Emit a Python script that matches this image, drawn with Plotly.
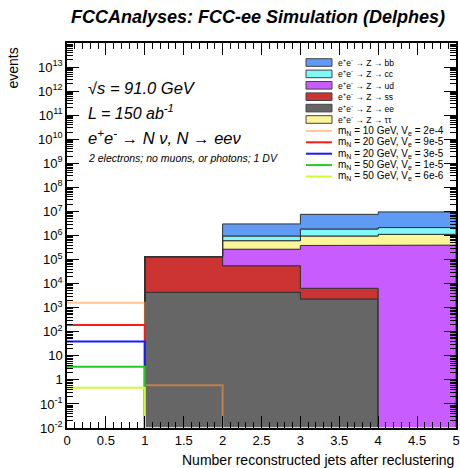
import plotly.graph_objects as go

# ---------------- data ----------------
edges = [0, 1, 2, 3, 4, 5]

# backgrounds (stacked bottom -> top)
z_ee = [0, 4360, 4360, 2300, 0]
z_ss = [0, 1.28e5, 5.1e4, 4100, 0]
z_ud = [0, 0, 2.14e5, 3.78e5, 3.98e5]
z_tautau = [0, 0, 3.4e5, 5.7e5, 7.2e5]
z_cc = [0, 0, 3.45e5, 9.1e5, 1.02e6]
z_bb = [0, 0, 2.07e6, 5.7e6, 7.4e6]

# signals
sig_10_2em4 = [1600, 0.6, 0, 0, 0]
sig_20_9em5 = [190, 0, 0, 0, 0]
sig_20_3em5 = [39, 0, 0, 0, 0]
sig_50_1em5 = [3.5, 0, 0, 0, 0]
sig_50_6em6 = [0.47, 0, 0, 0, 0]

bkg_stack = [
    ("ee", z_ee, "#666666"),
    ("ss", z_ss, "#cc3333"),
    ("ud", z_ud, "#c95cff"),
    ("ττ", z_tautau, "#fbf59a"),
    ("cc", z_cc, "#80f8f8"),
    ("bb", z_bb, "#5f9bf5"),
]
legend_bkg_order = ["bb", "cc", "ud", "ss", "ee", "ττ"]

signals = [
    ("m<sub>N</sub> = 10 GeV, V<sub>e</sub> = 2e-4", sig_10_2em4, "rgba(255,150,60,0.55)"),
    ("m<sub>N</sub> = 20 GeV, V<sub>e</sub> = 9e-5", sig_20_9em5, "#ff1a1a"),
    ("m<sub>N</sub> = 20 GeV, V<sub>e</sub> = 3e-5", sig_20_3em5, "#1a1aff"),
    ("m<sub>N</sub> = 50 GeV, V<sub>e</sub> = 1e-5", sig_50_1em5, "#22cc22"),
    ("m<sub>N</sub> = 50 GeV, V<sub>e</sub> = 6e-6", sig_50_6em6, "#ccff33"),
]

ymin_exp, ymax_exp = -2, 14
ytick_exps = list(range(-2, 14))

FONT = "Liberation Sans, Arial, Helvetica, sans-serif"

fig = go.Figure()

# ---------------- stacked backgrounds ----------------
floor = 1e-6
cum = [0.0] * 5
for name, vals, col in bkg_stack:
    bottom = cum[:]
    top = [b + v for b, v in zip(bottom, vals)]
    xs, ys = [], []
    for i in range(5):
        xs += [edges[i], edges[i + 1]]
        ys += [max(top[i], floor)] * 2
    for i in reversed(range(5)):
        xs += [edges[i + 1], edges[i]]
        ys += [max(bottom[i], floor)] * 2
    xs.append(xs[0]); ys.append(ys[0])
    fig.add_trace(go.Scatter(x=xs, y=ys, mode="lines", fill="toself",
                             fillcolor=col, line=dict(color="#333333", width=1),
                             showlegend=False, hoverinfo="skip"))
    cum = top

# ---------------- signals ----------------
ybottom = 10 ** ymin_exp
for name, vals, col in signals:
    xs, ys = [], []
    for i in range(5):
        v = vals[i] if vals[i] > 0 else ybottom
        xs += [edges[i], edges[i + 1]]
        ys += [v, v]
    fig.add_trace(go.Scatter(x=xs, y=ys, mode="lines",
                             line=dict(color=col, width=2),
                             showlegend=False, hoverinfo="skip"))

# ---------------- axes ----------------
def exp_label(e):
    if e == 0:
        return "1"
    if e == 1:
        return "10"
    return "10<sup>%d</sup>" % e

fig.update_xaxes(range=[0, 5], tickvals=[0.5 * i for i in range(11)],
                 ticktext=["0", "0.5", "1", "1.5", "2", "2.5", "3", "3.5", "4", "4.5", "5"],
                 ticks="inside", ticklen=12, tickcolor="black", tickwidth=1,
                 minor=dict(ticks="inside", ticklen=6, dtick=0.1, tickcolor="black", tickwidth=1),
                 showline=True, linecolor="black", linewidth=1.5, mirror="allticks",
                 showgrid=False, zeroline=False, automargin=False,
                 tickfont=dict(family=FONT, size=13, color="black"))
fig.update_yaxes(type="log", range=[ymin_exp, ymax_exp],
                 tickvals=[10 ** e for e in ytick_exps],
                 ticktext=[exp_label(e) for e in ytick_exps],
                 ticks="inside", ticklen=12, tickcolor="black", tickwidth=1,
                 minor=dict(ticks="inside", ticklen=6, dtick="D1", tickcolor="black", tickwidth=1),
                 showline=True, linecolor="black", linewidth=1.5, mirror="allticks",
                 showgrid=False, zeroline=False, automargin=False,
                 tickfont=dict(family=FONT, size=13, color="black"))

# ---------------- layout helpers (pixel -> paper) ----------------
L, R, T, B = 67, 456, 43, 428
def px(x):
    return (x - L) / (R - L)
def py(y):
    return (B - y) / (B - T)

ann = []
ann.append(dict(text="<b><i>FCCAnalyses: FCC-ee Simulation (Delphes)</i></b>",
                x=px(258), y=py(17), xref="paper", yref="paper",
                xanchor="center", yanchor="middle", showarrow=False,
                font=dict(family=FONT, size=18, color="black")))
ann.append(dict(text="events", x=px(12), y=py(45), xref="paper", yref="paper",
                xanchor="center", yanchor="top", textangle=-90, showarrow=False,
                font=dict(family=FONT, size=14, color="black")))
ann.append(dict(text="Number reconstructed jets after reclustering",
                x=1.0, y=py(460), xref="paper", yref="paper",
                xanchor="right", yanchor="middle", showarrow=False,
                font=dict(family=FONT, size=14, color="black")))

texts = [
    ("<i>√s = 91.0 GeV</i>", 88, 16.5),
    ("<i>L = 150 ab<sup>-1</sup></i>", 112, 16),
    ("<i>e<sup>+</sup>e<sup>-</sup> → N ν, N → eeν</i>", 137, 16.5),
    ("<i>2 electrons; no muons, or photons; 1 DV</i>", 158, 10.5),
]
for t, yy, fs in texts:
    ann.append(dict(text=t, x=px(86), y=py(yy), xref="paper", yref="paper",
                    xanchor="left", yanchor="middle", showarrow=False,
                    font=dict(family=FONT, size=fs, color="black")))

# ---------------- manual legend ----------------
shapes = []
bkg_col = {n: c for n, _, c in bkg_stack}
row_y = [62.5 + 11.4 * i for i in range(11)]
sx0, sx1, tx = 306, 332, 336
for i, n in enumerate(legend_bkg_order):
    yc = row_y[i]
    shapes.append(dict(type="rect", xref="paper", yref="paper",
                       x0=px(sx0), x1=px(sx1), y0=py(yc + 3.8), y1=py(yc - 3.8),
                       fillcolor=bkg_col[n], line=dict(color="#444444", width=1)))
    ann.append(dict(text="e<sup>+</sup>e<sup>-</sup> → Z → " + n,
                    x=px(tx), y=py(yc), xref="paper", yref="paper",
                    xanchor="left", yanchor="middle", showarrow=False,
                    font=dict(family=FONT, size=8.5, color="black")))
for j, (name, _, col) in enumerate(signals):
    yc = row_y[6 + j]
    shapes.append(dict(type="line", xref="paper", yref="paper",
                       x0=px(sx0), x1=px(sx1), y0=py(yc), y1=py(yc),
                       line=dict(color=col, width=2)))
    ann.append(dict(text=name, x=px(tx), y=py(yc), xref="paper", yref="paper",
                    xanchor="left", yanchor="middle", showarrow=False,
                    font=dict(family=FONT, size=10, color="black")))

fig.update_layout(width=460, height=468,
                  margin=dict(l=L, r=460 - R, t=T, b=468 - B),
                  paper_bgcolor="white", plot_bgcolor="white",
                  showlegend=False, annotations=ann, shapes=shapes,
                  font=dict(family=FONT, color="black"))

fig.write_html("out.html", config={"displayModeBar": False},
               post_script="document.body.style.margin='0';document.body.style.overflow='hidden';")
